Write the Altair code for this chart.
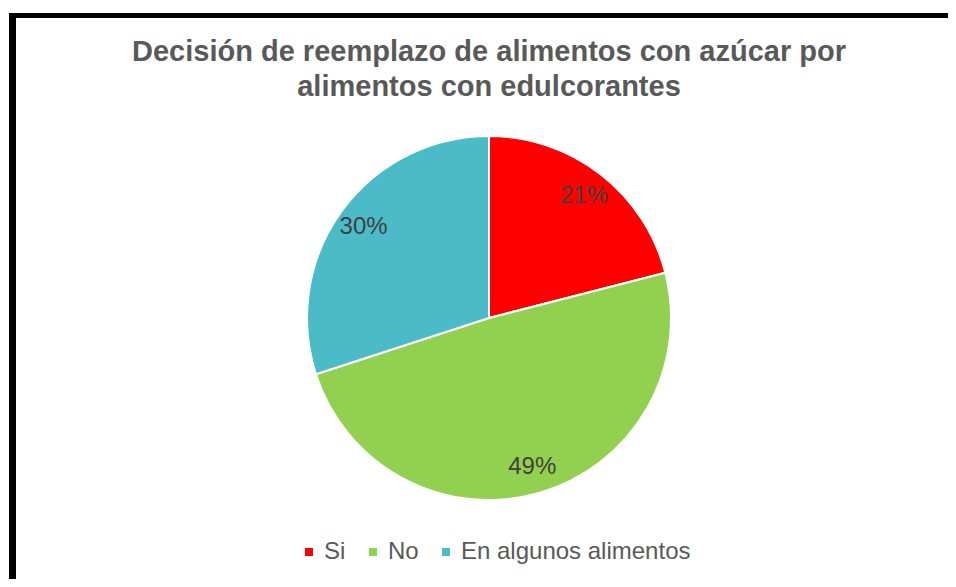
import altair as alt
import pandas as pd

categories = ["Si", "No", "En algunos alimentos"]
values = [21, 49, 30]
colors = ["#FF0000", "#92D050", "#4BBCC7"]
title_lines = ["Decisión de reemplazo de alimentos con azúcar por", "alimentos con edulcorantes"]

df = pd.DataFrame({
    "cat": categories,
    "value": values,
    "idx": list(range(len(categories))),
    "label": [f"{v}%" for v in values],
})

W, H = 940, 571
CX, CY, R = 481, 310, 182

base = alt.Chart(df).encode(
    theta=alt.Theta("value:Q", stack=True),
    order=alt.Order("idx:Q"),
    x=alt.value(CX),
    y=alt.value(CY),
)

pie = base.mark_arc(radius=R, stroke="white", strokeWidth=2).encode(
    color=alt.Color(
        "cat:N",
        scale=alt.Scale(domain=categories, range=colors),
        sort=categories,
        legend=alt.Legend(
            title=None,
            orient="none",
            direction="horizontal",
            legendX=289,
            legendY=532,
            symbolType="square",
            symbolSize=64,
            symbolStrokeWidth=0,
            labelFontSize=24,
            labelFont="Liberation Sans",
            labelColor="#595959",
            labelOffset=3,
            labelLimit=500,
            columnPadding=15,
            padding=0,
        ),
    )
)

labels = base.mark_text(
    radius=155, font="Liberation Sans", fontSize=24, color="#404040"
).encode(text="label:N")

title = alt.Chart(pd.DataFrame({"t": [0]})).mark_text(
    text=title_lines,
    font="Liberation Sans",
    fontSize=29,
    fontWeight="bold",
    color="#595959",
    baseline="alphabetic",
    align="center",
    lineHeight=35,
).encode(x=alt.value(CX), y=alt.value(53))

frame_top = alt.Chart(pd.DataFrame({"t": [0]})).mark_rule(
    color="black", strokeWidth=5
).encode(x=alt.value(1), x2=alt.value(W), y=alt.value(7.5))

frame_left = alt.Chart(pd.DataFrame({"t": [0]})).mark_rule(
    color="black", strokeWidth=7
).encode(x=alt.value(4.5), y=alt.value(5), y2=alt.value(H))

chart = alt.layer(frame_top, frame_left, pie, labels, title).properties(
    width=W,
    height=H,
    autosize=alt.AutoSizeParams(type="none"),
    padding=0,
).configure_view(stroke=None)

chart.save("out.html", embed_options={"renderer": "svg", "actions": False})
